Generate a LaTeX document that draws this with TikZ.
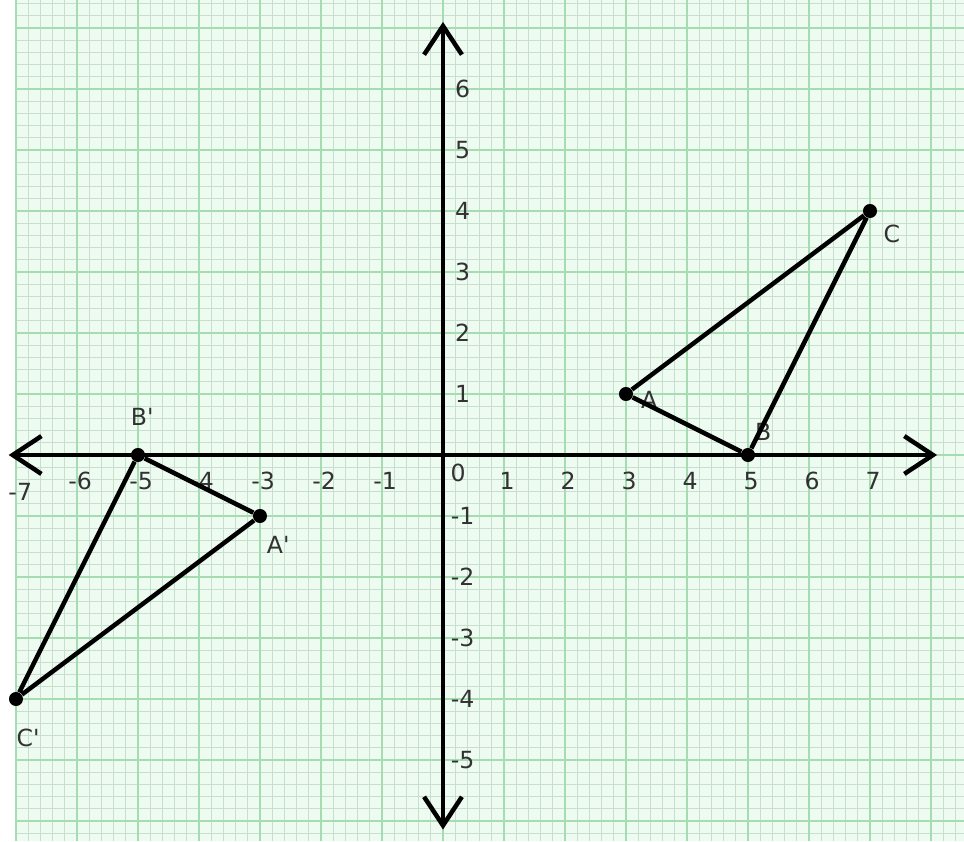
\documentclass[tikz,border=0pt]{standalone}
\usepackage{fontspec}
\setmainfont{DejaVu Sans}[Ligatures=TeXOff]
\usepackage{tikz}
\usetikzlibrary{arrows.meta,positioning}
\definecolor{paperBg}{RGB}{238,251,241}
\definecolor{gridMinor}{RGB}{200,222,206}
\definecolor{gridMajor}{RGB}{165,220,178}
\definecolor{labelGray}{RGB}{50,50,50}
\tikzset{
myPaper/.style={fill=paperBg,draw=none}
, myMinorGrid/.style={draw=gridMinor,line width=0.5pt,step=0.2}
, myMajorGrid/.style={draw=gridMajor,line width=1pt,step=1}
% axes
, myAxis/.style={
	line width=2.1pt,black,
	{Straight Barb[length=0.47cm,width=0.62cm,line width=2.1pt]}-{Straight Barb[length=0.47cm,width=0.62cm,line width=2.1pt]}
}
, myTick/.style={
	text=labelGray,inner sep=1pt,font=\fontsize{11}{13}\selectfont
}
% triangles
, myPoint/.style={
	circle,fill=black,draw=none,minimum size=2.3mm,inner sep=0pt
}
, myEdge/.style={line width=2.1pt,black}
, myName/.style={
	text=labelGray,inner sep=1pt,font=\fontsize{11}{13}\selectfont
}
}

\begin{document}
\begin{tikzpicture}
	\useasboundingbox (-7.262,-6.328) rectangle (8.541,7.459);
	% paper
	\fill[myPaper] (-7.016,-6.328) rectangle (8.541,7.459);
	\draw[myMinorGrid] (-7.016,-6.328) grid (8.541,7.459);
	\draw[myMajorGrid] (-7.016,-6.328) grid (8.541,7.459);

	% axes
	\coordinate (xMin) at (-7.12,0);
	\coordinate (xMax) at ( 8.10,0);
	\coordinate (yMin) at (0,-6.14);
	\coordinate (yMax) at (0, 7.10);
	\draw[myAxis] (xMin) -- (xMax);
	\draw[myAxis] (yMin) -- (yMax);

	% tick labels
	\foreach \x in {-6,...,-1,1,2,...,7}
		\node[myTick] (tickX\x) at (\x+0.05,-0.42) {\x};
	\node[myTick] (tickX-7) at (-6.93,-0.60) {-7};
	\node[myTick] (tickX0) at (0.25,-0.30) {0};
	\foreach \y in {-5,...,-1,1,2,...,6}
		\node[myTick] (tickY\y) at (0.32,\y) {\y};

	% points
	\node[myPoint] (A) at ( 3, 1) {};
	\node[myPoint] (B) at ( 5, 0) {};
	\node[myPoint] (C) at ( 7, 4) {};
	\node[myPoint] (A') at (-3,-1) {};
	\node[myPoint] (B') at (-5, 0) {};
	\node[myPoint] (C') at (-7,-4) {};

	% names
	\node[myName] (nameA) at ( 3.38, 0.90) {A};
	\node[myName] (nameB) at ( 5.25, 0.38) {B};
	\node[myName] (nameC) at ( 7.36, 3.62) {C};
	\node[myName] (nameA') at (-2.70,-1.48) {A'};
	\node[myName] (nameB') at (-4.93, 0.62) {B'};
	\node[myName] (nameC') at (-6.80,-4.64) {C'};

	% links
	\draw[myEdge] (A) -- (B) -- (C) -- (A);
	\draw[myEdge] (A') -- (B') -- (C') -- (A');
\end{tikzpicture}
\end{document}
